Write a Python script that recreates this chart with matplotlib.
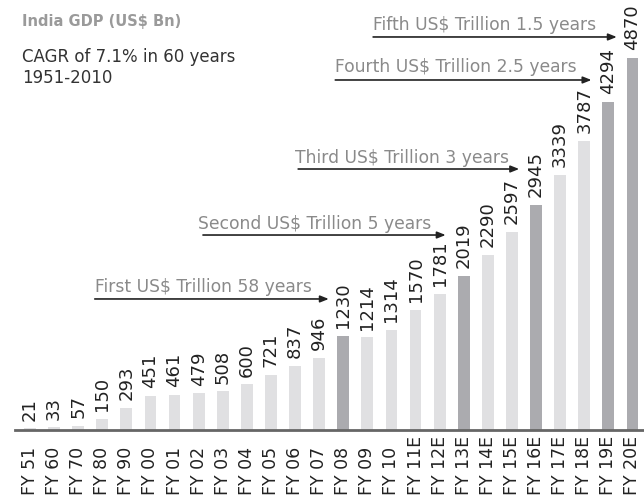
import matplotlib
matplotlib.use("Agg")
import matplotlib.pyplot as plt

categories = ["FY 51", "FY 60", "FY 70", "FY 80", "FY 90", "FY 00", "FY 01", "FY 02",
              "FY 03", "FY 04", "FY 05", "FY 06", "FY 07", "FY 08", "FY 09", "FY 10",
              "FY 11E", "FY 12E", "FY 13E", "FY 14E", "FY 15E", "FY 16E", "FY 17E",
              "FY 18E", "FY 19E", "FY 20E"]
gdp = [21, 33, 57, 150, 293, 451, 461, 479, 508, 600, 721, 837, 946, 1230, 1214, 1314,
       1570, 1781, 2019, 2290, 2597, 2945, 3339, 3787, 4294, 4870]
milestones = ["FY 08", "FY 13E", "FY 16E", "FY 19E", "FY 20E"]

annotations = [
    # text, text_x, text_y, arrow_start_x, arrow_end_x, arrow_y
    ("First US$ Trillion 58 years", 2.69, 1800, 2.69, 12.4, 1715),
    ("Second US$ Trillion 5 years", 6.98, 2630, 7.18, 17.25, 2552),
    ("Third US$ Trillion 3 years", 11.0, 3495, 11.13, 20.3, 3416),
    ("Fourth US$ Trillion 2.5 years", 12.67, 4685, 12.67, 23.3, 4581),
    ("Fifth US$ Trillion 1.5 years", 14.24, 5235, 14.24, 24.35, 5144),
]

plt.rcParams['font.family'] = ['DejaVu Sans']

fig = plt.figure(figsize=(6.44, 4.99), dpi=100)
ax = fig.add_axes([15 / 644, 69 / 499, 629 / 644, 430 / 499])

light = "#e0e0e2"
dark = "#ababaf"
colors = [dark if c in milestones else light for c in categories]
x = list(range(len(categories)))
ax.bar(x, gdp, width=0.49, color=colors, zorder=2)

for xi, v in zip(x, gdp):
    ax.annotate(str(v), (xi, v), xytext=(0, 5.5), textcoords="offset points",
                rotation=90, ha="center", va="bottom", fontsize=13, color="#222222")

ax.set_xlim(-0.62, 25.48)
ax.set_ylim(0, 5628)
ax.set_xticks(x)
ax.set_xticklabels([])
ax.tick_params(axis="x", length=0)
for xi, c in zip(x, categories):
    ax.text(xi, -(495 - 430) / 430, c, transform=ax.get_xaxis_transform(),
            rotation=90, ha="center", va="bottom", fontsize=12.5, color="#222222")
ax.set_yticks([])
for s in ["top", "right", "left"]:
    ax.spines[s].set_visible(False)
ax.spines["bottom"].set_color("#666666")
ax.spines["bottom"].set_linewidth(2)

for text, tx, ty, x0, x1, ay in annotations:
    ax.text(tx, ty, text, ha="left", va="baseline", fontsize=12.3, color="#8a8a8a")
    ax.annotate("", xy=(x1, ay), xytext=(x0, ay),
                arrowprops=dict(arrowstyle="-|>,head_length=0.5,head_width=0.2",
                                color="#222222", lw=1.2, shrinkA=0, shrinkB=0))

fig.text(22 / 644, 1 - 26 / 499, "India GDP (US$ Bn)", fontsize=10.5, fontweight="bold",
         color="#9a9a9a", ha="left", va="baseline")
fig.text(22 / 644, 1 - 62 / 499, "CAGR of 7.1% in 60 years", fontsize=12, color="#333333",
         ha="left", va="baseline")
fig.text(22 / 644, 1 - 83 / 499, "1951-2010", fontsize=12, color="#333333",
         ha="left", va="baseline")

fig.savefig("out.png", dpi=100)
